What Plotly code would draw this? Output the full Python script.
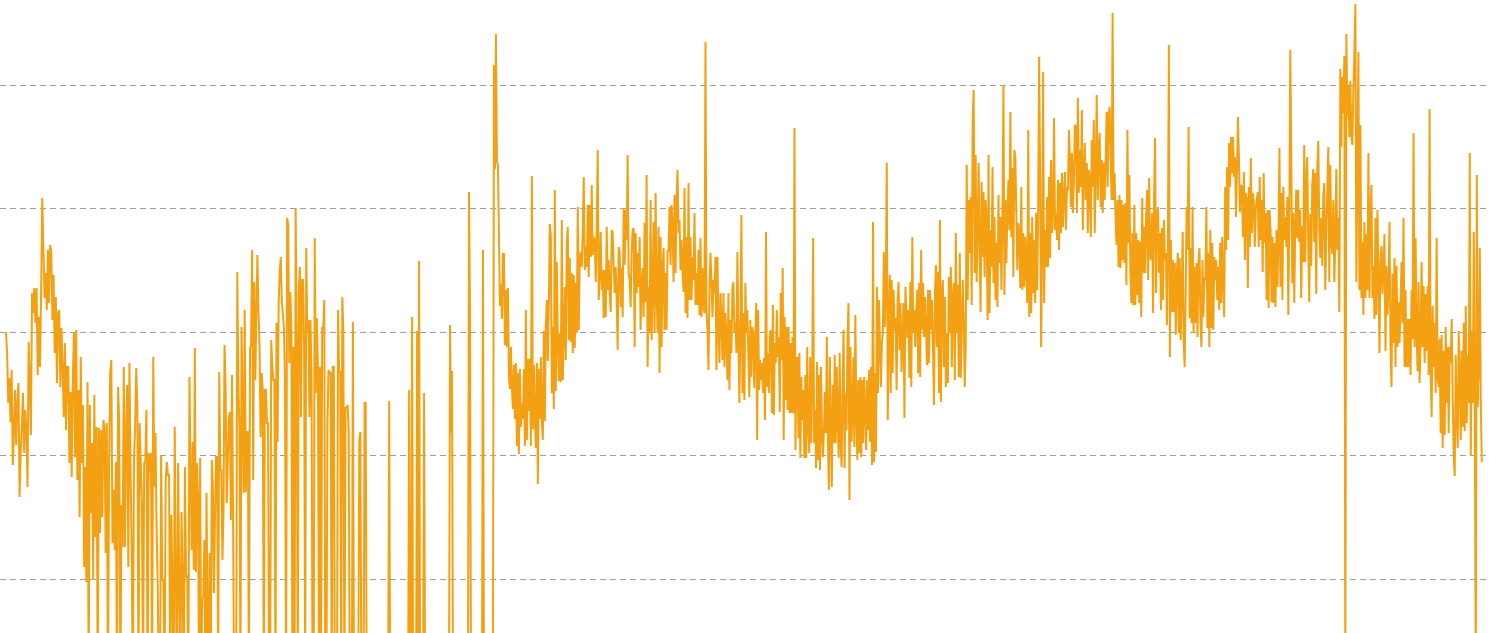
import plotly.graph_objects as go

# Values, grouped into 8 equal-length periods.
# Units: chart level (gridlines at 54, 177.5, 301, 424.5, 548). Values below 0 fall off the chart.
SEG1 = [301,280,230,255,211,263,168,200,243,188,230,250,
        136,180,206,240,180,223,203,146,291,250,198,340,320,
        345,310,345,258,316,266,340,435,386,335,
        360,323,383,330,388,381,313,358,280,336,
        250,320,323,246,305,266,216,290,203,266,
        266,170,241,156,253,301,176,303,153,243,
        116,276,170,228,66,166,51,251,-60,228,
        120,190,53,238,96,206,-60,205,100,203,
        116,213,206,80,210,-60,163,260,273,90,
        143,83,171,-60,246,211,-60,128,86,266,
        86,198,248,66,270,165,76,-60,175,205,
        265,226,-60,210,170,130,-60,170,171,223,
        -60,180,161,180,-60,276,146,200,103,46,
        -60,-60,178,53,53,-60,153,171,158,158,
        -60,118,43,-60,206,50,-60,170,53,-60,
        121,50,-60,166,56,58,-60,256]

SEG2 = [155,83,191,63,285,61,170,136,-60,175,
        -60,36,35,93,-60,140,16,-60,80,-60,
        173,145,40,116,176,176,-60,261,163,163,
        73,120,288,246,130,170,215,221,113,258,
        120,-60,-60,-60,361,251,205,-60,306,235,
        140,323,141,201,201,-60,285,288,383,153,
        351,253,323,378,321,285,196,260,243,-60,
        243,243,210,210,-60,-60,293,266,253,253,
        -60,310,191,330,361,376,331,318,305,246,
        -60,415,408,270,341,303,-60,286,-60,425,
        290,-60,346,366,216,353,353,286,-60,385,
        300,313,216,313,253,-60,-60,395,240,315,
        266,-60,266,-60,305,305,333,-60,-60,211,
        263,260,260,-60,266,266,-60,-60,-60,323,
        261,261,-60,336,303,-60,225,225,228,201,
        -60,-60,-60,311,-60,-60,-60,-60,-60,193,
        201,-60,-60,-60,230,230,-60,-60,-60,-60,
        -60,-60,-60,-60]

SEG3 = [-60,-60,-60,-60,-60,-60,-60,-60,-60,-60,-60,-60,-60,-60,
        232,
        -60,-60,-60,-60,-60,-60,-60,-60,-60,-60,-60,-60,-60,-60,-60,-60,-60,-60,-60,
        243,-60,-60,316,-60,-60,-60,-60,302,-60,372,-60,-60,-60,-60,240,
        -60,-60,-60,-60,-60,-60,-60,-60,-60,-60,-60,-60,-60,-60,-60,-60,-60,-60,-60,-60,-60,-60,-60,-60,-60,
        308,200,262,
        -60,-60,-60,-60,-60,-60,-60,-60,-60,-60,-60,-60,-60,-60,-60,-60,
        441,323,
        -60,-60,-60,-60,-60,-60,-60,-60,-60,-60,-60,-60,
        383,
        -60,-60,-60,-60,-60,-60,-60,-60,-60,-60,
        568,464,599,472,468,399,327,349,314,379,
        379,288,343,286,345,256,244,286,246,224,
        268,214,270,187,260,179,264,206,230,214,
        264,187,323,193,274,222,274,187,457,204,
        268,214,185,270,149,264,214,276,210,193,
        302,212,308,333,272,327,409,397,240,306,
        224,443,242,371,294,252]

SEG4 = [300,251,413,253,300,346,273,390,406,293,
        375,291,360,280,358,285,350,300,426,303,
        375,381,366,400,456,363,386,366,428,356,
        428,376,448,378,396,393,351,406,483,333,
        360,401,343,363,315,363,316,406,343,373,
        340,321,403,401,366,340,366,331,283,386,
        381,326,365,316,425,368,423,393,478,360,
        353,326,380,403,405,286,400,340,380,346,
        396,303,348,365,316,410,331,458,266,346,
        300,433,293,343,411,300,440,340,300,406,
        260,396,286,366,385,303,360,303,383,381,
        426,368,428,408,351,438,360,433,463,400,
        413,363,393,361,341,445,320,396,315,450,
        333,396,333,376,353,420,328,360,328,383,
        318,395,316,365,326,320,591,323,303,263,
        346,380,353,316,353,340,376,263,376,306,
        270,340,316,273,340,266,320,293,253,340,
        243,313,280,346,351,300,311,280,381,293,
        230,313,418,240,320]

SEG5 = [233,350,300,323,280,236,313,256,306,300,
        245,290,330,193,323,243,273,253,270,240,
        275,213,401,246,280,240,300,303,220,328,
        218,290,270,323,276,296,221,340,273,365,
        193,316,233,306,223,306,220,290,220,296,
        220,505,183,273,276,195,280,175,256,213,
        243,175,258,175,286,206,180,276,190,243,
        395,190,223,165,271,173,258,163,266,200,
        176,203,241,200,296,200,143,276,201,146,
        248,190,278,190,266,216,175,280,190,166,
        250,303,165,240,203,293,330,133,286,191,
        216,276,186,318,220,173,253,180,256,176,
        253,190,256,223,183,253,203,263,191,266,
        168,411,171,260,181,346,240,333,293,246,
        290,300,381,306,346,470,213,300,358,240,
        353,260,343,303,315,243,333,351,283,330,
        261,293,330,215,346,320,295,323,255,351,
        246,396,300,323,286,320,343,260,350,256,
        383,303,350,296,336,303,268,343]

SEG6 = [270,343,303,333,283,228,340,368,286,361,
        240,413,231,340,353,266,336,246,300,250,
        356,300,366,266,336,350,253,400,300,348,
        256,380,255,300,353,313,246,286,468,333,
        433,380,436,328,513,543,360,478,351,400,
        470,380,321,451,376,441,356,433,416,313,
        478,320,403,366,466,350,416,333,390,326,
        438,370,416,343,416,548,338,433,370,423,
        453,403,521,396,465,356,483,476,420,363,
        410,400,345,446,343,400,346,396,363,330,
        503,316,400,320,416,340,393,330,420,343,
        423,576,446,286,390,561,330,403,366,436,
        366,456,375,473,400,420,515,403,420,393,
        453,383,450,400,460,406,436,461,403,446,
        443,503,475,426,480,420,453,508,506,420,
        535,440,483,446,523,403,460,490,433,470,
        400,463,453,396,493,446,513,400,466,538,
        433,483,500,426,473,420,470,433,473,521,
        446,520,526,476,433,620]

SEG7 = [433,460,413,388,433,366,438,365,433,373,
        428,370,430,348,503,390,458,361,330,400,
        328,428,328,400,338,393,330,391,316,435,
        360,406,360,416,443,353,455,380,373,420,
        320,436,495,340,416,426,360,400,323,405,
        333,413,373,380,308,386,588,276,393,321,
        373,321,370,298,358,380,300,375,293,340,
        401,290,266,340,426,383,506,315,385,310,
        426,300,366,310,370,296,373,385,310,286,
        373,316,356,353,426,305,380,286,403,305,
        390,303,376,353,373,333,366,323,390,330,
        396,353,316,446,383,466,393,490,446,496,
        460,496,456,476,416,463,516,473,421,448,
        446,396,461,373,440,433,345,446,386,475,
        400,440,433,386,423,433,441,386,456,393,
        433,361,460,390,420,333,423,325,423,403,
        331,396,330,390,326,403,346,393,485,346,
        440,333,446,393,416,386,436,318,416,583,
        471,350,420,330,406,443,395]

SEG8 = [443,391,423,335,407,371,488,371,452,476,
        391,331,419,367,448,464,391,460,339,464,
        492,407,375,415,367,437,450,343,399,443,
        486,351,468,391,379,433,351,391,464,383,
        415,321,564,486,556,520,577,-60,599,516,
        548,496,552,496,488,544,581,629,351,472,
        581,343,508,335,391,318,411,335,399,343,
        480,335,419,448,335,367,314,415,318,423,
        355,280,375,387,339,367,399,282,367,318,
        347,411,286,246,359,290,375,266,367,286,
        331,290,327,371,310,415,266,343,266,314,
        266,314,258,343,294,500,286,395,298,262,
        351,250,294,371,286,347,270,339,282,347,
        258,524,262,216,327,266,310,240,395,254,
        246,294,200,298,185,282,198,306,230,286,
        200,286,270,314,234,177,157,278,218,185,
        302,262,193,282,206,310,202,327,210,278,
        230,480,177,302,230,401,230,-60,458,226,
        270,385,230,171]

PERIODS = [SEG1, SEG2, SEG3, SEG4, SEG5, SEG6, SEG7, SEG8]
GRID_LEVELS = [54, 177.5, 301, 424.5, 548]

x, y = [], []
for k, seg in enumerate(PERIODS):
    n = len(seg)
    for j, v in enumerate(seg):
        x.append(k + j / n)
        y.append(v)

fig = go.Figure()
fig.add_trace(go.Scatter(
    x=x, y=y, mode="lines",
    line=dict(color="#F3A012", width=2, simplify=False),
    hoverinfo="skip", showlegend=False,
))

fig.update_layout(
    width=1490, height=633,
    margin=dict(l=0, r=0, t=0, b=0),
    paper_bgcolor="white", plot_bgcolor="white",
    xaxis=dict(range=[-0.0325, 8.039], showgrid=False, zeroline=False,
               showticklabels=False, showline=False, ticks=""),
    yaxis=dict(range=[0, 633], tickmode="array", tickvals=GRID_LEVELS,
               showgrid=True, gridcolor="#9e9e9e", gridwidth=1, griddash="6px,4px",
               zeroline=False, showticklabels=False, showline=False, ticks=""),
)

fig.write_html("out.html", config={"displayModeBar": False},
               post_script="document.body.style.margin='0';")
